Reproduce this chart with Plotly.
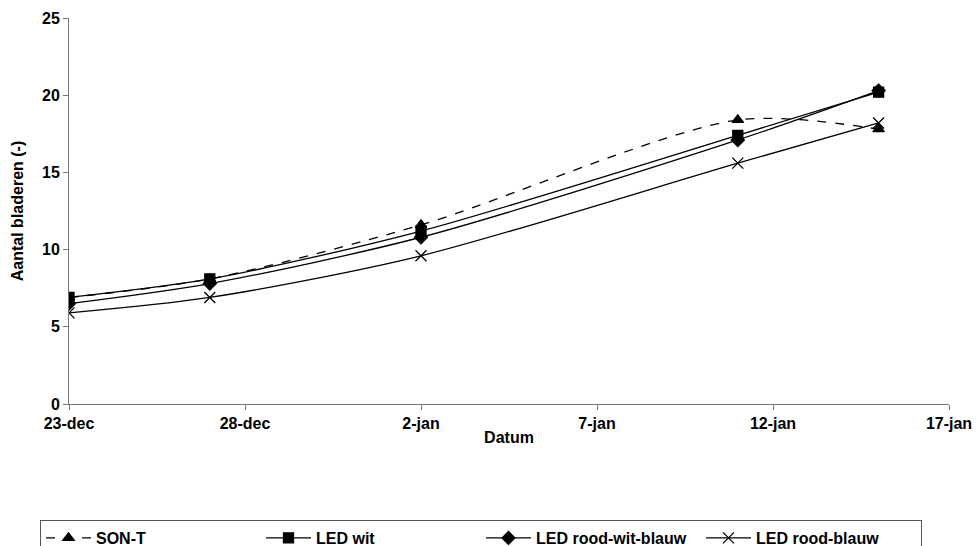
import plotly.graph_objects as go

dates = ["2008-12-23", "2008-12-27", "2009-01-02", "2009-01-11", "2009-01-15"]
son_t = [6.9, 8.1, 11.6, 18.4, 17.8]
led_wit = [6.9, 8.1, 11.2, 17.4, 20.2]
led_rwb = [6.5, 7.8, 10.8, 17.1, 20.3]
led_rb = [5.9, 6.9, 9.6, 15.6, 18.2]

tick_vals = ["2008-12-23", "2008-12-28", "2009-01-02", "2009-01-07", "2009-01-12", "2009-01-17"]
tick_text = ["23-dec", "28-dec", "2-jan", "7-jan", "12-jan", "17-jan"]

series = [
    ("SON-T", son_t, "triangle-up", "dash", 10),
    ("LED wit", led_wit, "square", "solid", 10),
    ("LED rood-wit-blauw", led_rwb, "diamond", "solid", 10),
    ("LED rood-blauw", led_rb, "x-thin-open", "solid", 11),
]

fig = go.Figure()
for name, vals, sym, dash, size in series:
    fig.add_trace(go.Scatter(
        x=dates, y=vals, name=name, mode="lines+markers",
        line=dict(color="black", width=1.3, dash=dash, shape="spline", smoothing=0.8),
        marker=dict(symbol=sym, size=size, color="black",
                    line=dict(color="black", width=1.3)),
    ))

font_family = "Liberation Sans, Arial, sans-serif"
bold16 = dict(family=font_family, size=16, weight="bold", color="black")
fig.update_layout(
    width=978, height=546,
    margin=dict(l=69, r=29, t=18, b=142, autoexpand=False),
    paper_bgcolor="white", plot_bgcolor="white",
    font=dict(family=font_family, size=16, color="black"),
    showlegend=True,
    legend=dict(
        orientation="h", x=(40 - 69) / 880, xanchor="left",
        y=(404 - 556) / 386, yanchor="bottom",
        bordercolor="#555555", borderwidth=1,
        font=bold16,
        entrywidth=160, entrywidthmode="pixels",
        itemwidth=45, tracegroupgap=0,
    ),
    xaxis=dict(
        range=["2008-12-23", "2009-01-17"],
        tickvals=tick_vals, ticktext=tick_text,
        showgrid=False, zeroline=False, automargin=False,
        showline=True, linecolor="#777777", linewidth=1,
        ticks="outside", ticklen=5, tickcolor="#777777",
        tickfont=bold16,
        title=dict(text="Datum", font=bold16, standoff=0),
    ),
    yaxis=dict(
        range=[0, 25], dtick=5,
        showgrid=False, zeroline=False, automargin=False,
        showline=True, linecolor="#777777", linewidth=1,
        ticks="outside", ticklen=5, tickcolor="#777777",
        tickfont=bold16,
        title=dict(text="Aantal bladeren (-)", font=bold16, standoff=14),
    ),
)

fig.write_html("out.html")
